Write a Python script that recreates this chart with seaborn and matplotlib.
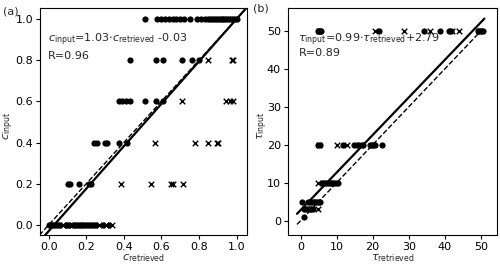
import numpy as np
import pandas as pd
import matplotlib
matplotlib.use("Agg")
import matplotlib.pyplot as plt
import seaborn as sns

# dados lidos do grafico
# painel (a): c_retrieved por nivel de c_input, pontos (o) e cruzes (x)
a_niveis = [1.0, 0.8, 0.6, 0.4, 0.2, 0.0]
a_pontos = {
    1.0: [0.51, 0.575, 0.60, 0.62, 0.64, 0.66, 0.68, 0.70, 0.72, 0.75, 0.79, 0.81, 0.83,
          0.85, 0.86, 0.87, 0.88, 0.89, 0.90, 0.91, 0.92, 0.93, 0.94, 0.95, 0.96, 0.97,
          0.98, 0.99, 1.0],
    0.8: [0.435, 0.57, 0.61, 0.707, 0.76, 0.80],
    0.6: [0.375, 0.39, 0.41, 0.435, 0.51, 0.57, 0.61],
    0.4: [0.243, 0.255, 0.30, 0.31, 0.374, 0.418],
    0.2: [0.105, 0.113, 0.161, 0.216, 0.223],
    0.0: [0.0, 0.01, 0.02, 0.03, 0.04, 0.05, 0.06, 0.09, 0.10, 0.11, 0.13, 0.14, 0.15,
          0.16, 0.17, 0.18, 0.19, 0.20, 0.21, 0.22, 0.23, 0.24, 0.25, 0.29, 0.32],
}
a_cruzes = {
    1.0: [],
    0.8: [0.85, 0.973, 0.98],
    0.6: [0.71, 0.943, 0.962, 0.98],
    0.4: [0.565, 0.778, 0.849, 0.894, 0.902],
    0.2: [0.385, 0.542, 0.649, 0.66, 0.716],
    0.0: [0.078, 0.122, 0.27, 0.305, 0.335],
}
a_coef = (1.03, -0.03)
a_r = 0.96

# painel (b): tau_retrieved por nivel de tau_input
b_niveis = [50, 20, 10, 5, 3, 1]
b_pontos = {
    50: [4.7, 5.0, 5.3, 5.6, 21.7, 34.3, 38.8, 41.1, 41.7, 49.1, 49.6, 50.1, 50.6],
    20: [4.7, 5.4, 11.8, 14.9, 15.6, 16.3, 17.0, 17.4, 19.2, 19.7, 20.2, 20.6, 22.5],
    10: [5.8, 6.3, 6.8, 7.3, 7.8, 8.3, 8.8, 9.3, 9.8, 10.4],
    5: [0.3, 2.1, 2.6, 3.1, 3.6, 4.1, 4.6, 5.0, 5.4],
    3: [1.0, 1.5, 2.0, 2.5, 3.0, 3.3],
    1: [1.0],
}
b_cruzes = {
    50: [5.0, 20.6, 28.6, 35.9, 42.0, 43.9, 49.4],
    20: [5.0, 10.0, 13.0],
    10: [4.9],
    5: [],
    3: [4.9],
    1: [],
}
b_coef = (0.99, 2.79)
b_r = 0.89


def monta_df(niveis, pontos, cruzes):
    linhas = []
    for n in niveis:
        for v in pontos[n]:
            linhas.append((v, n, 'o'))
        for v in cruzes[n]:
            linhas.append((v, n, 'x'))
    return pd.DataFrame(linhas, columns=['retrieved', 'input', 'tipo'])


df_a = monta_df(a_niveis, a_pontos, a_cruzes)
df_b = monta_df(b_niveis, b_pontos, b_cruzes)

sns.set_style("ticks")
plt.rcParams['font.family'] = ['DejaVu Sans']
plt.rcParams['font.size'] = 8
plt.rcParams['xtick.labelsize'] = 8
plt.rcParams['ytick.labelsize'] = 8
plt.rcParams['xtick.color'] = 'black'
plt.rcParams['ytick.color'] = 'black'
plt.rcParams['axes.edgecolor'] = 'black'

fig = plt.figure(figsize=(5, 2.65), dpi=100)
ax1 = fig.add_axes([0.08, 0.113, 0.414, 0.857])
ax2 = fig.add_axes([0.576, 0.113, 0.418, 0.857])


def desenha(ax, df, coef, lim):
    pts = df[df['tipo'] == 'o']
    crz = df[df['tipo'] == 'x']
    sns.scatterplot(data=pts, x='retrieved', y='input', marker='o', color='black',
                    s=20, linewidth=0, ax=ax)
    sns.scatterplot(data=crz, x='retrieved', y='input', marker='x', color='black',
                    s=16, linewidth=1, ax=ax)
    xs = np.array(lim)
    ax.plot(xs, coef[0] * xs + coef[1], color='black', lw=1.6)
    ax.plot(xs, xs, color='black', lw=1, ls='--')


desenha(ax1, df_a, a_coef, [-0.05, 1.05])
ax1.set_xlim(-0.046, 1.055)
ax1.set_ylim(-0.049, 1.053)
ax1.set_xticks([0.0, 0.2, 0.4, 0.6, 0.8, 1.0])
ax1.set_yticks([0.0, 0.2, 0.4, 0.6, 0.8, 1.0])
ax1.set_xlabel(r'$c_{\rm retrieved}$', fontsize=8)
ax1.set_ylabel(r'$c_{\rm input}$', fontsize=8)
ax1.xaxis.set_label_coords(0.5, -0.075)
ax1.yaxis.set_label_coords(-0.115, 0.48)
ax1.text(0.04, 0.86, r'$c_{\rm input}$=1.03$\cdot c_{\rm retrieved}$ -0.03',
         transform=ax1.transAxes, fontsize=8, va='center')
ax1.text(0.04, 0.79, 'R=%.2f' % a_r, transform=ax1.transAxes, fontsize=8, va='center')

desenha(ax2, df_b, b_coef, [-1, 51])
ax2.set_xlim(-3.5, 54.5)
ax2.set_ylim(-3.8, 56.1)
ax2.set_xticks([0, 10, 20, 30, 40, 50])
ax2.set_yticks([0, 10, 20, 30, 40, 50])
ax2.set_xlabel(r'$\tau_{\rm retrieved}$', fontsize=8)
ax2.set_ylabel(r'$\tau_{\rm input}$', fontsize=8)
ax2.xaxis.set_label_coords(0.5, -0.075)
ax2.yaxis.set_label_coords(-0.085, 0.48)
ax2.text(0.05, 0.86, r'$\tau_{\rm input}$=0.99$\cdot\tau_{\rm retrieved}$+2.79',
         transform=ax2.transAxes, fontsize=8, va='center')
ax2.text(0.05, 0.80, 'R=%.2f' % b_r, transform=ax2.transAxes, fontsize=8, va='center')

fig.text(0.005, 0.975, '(a)', fontsize=8, va='top')
fig.text(0.505, 0.985, '(b)', fontsize=8, va='top')

for ax in (ax1, ax2):
    ax.tick_params(length=3, width=0.8, pad=2)
    for s in ax.spines.values():
        s.set_linewidth(0.8)

fig.savefig('out.png', dpi=100)
